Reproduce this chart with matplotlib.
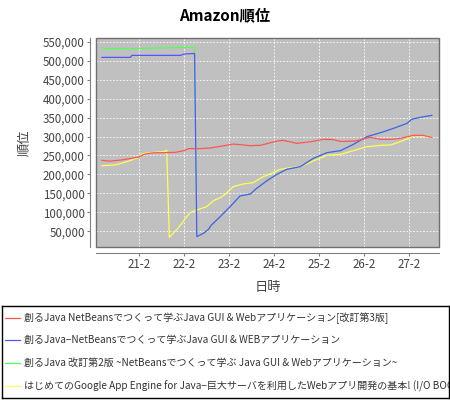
import matplotlib
matplotlib.use("Agg")
import matplotlib.pyplot as plt
from matplotlib.patches import Rectangle
from matplotlib.ticker import FuncFormatter, FixedLocator

plt.rcParams['font.family'] = ['Noto Sans CJK JP', 'DejaVu Sans']

title = "Amazon順位"
xlabel = "日時"
ylabel = "順位"
xtick_days = [21, 22, 23, 24, 25, 26, 27]
xtick_labels = ["21-2", "22-2", "23-2", "24-2", "25-2", "26-2", "27-2"]
ytick_values = [50000, 100000, 150000, 200000, 250000, 300000, 350000, 400000, 450000, 500000, 550000]

series_names = [
    "創るJava NetBeansでつくって学ぶJava GUI & Webアプリケーション[改訂第3版]",
    "創るJava−NetBeansでつくって学ぶJava GUI & WEBアプリケーション",
    "創るJava 改訂第2版 ~NetBeansでつくって学ぶ Java GUI & Webアプリケーション~",
    "はじめてのGoogle App Engine for Java−巨大サーバを利用したWebアプリ開発の基本! (I/O BOOKS)",
]
series_colors = ["#FF5555", "#5555FF", "#55FF55", "#FFFF55"]

red_x = [20.17, 20.35, 20.6, 20.85, 21.0, 21.1, 21.3, 21.8, 22.0, 22.1, 22.36, 22.6, 22.8, 23.09, 23.3, 23.47,
         23.7, 23.9, 24.06, 24.2, 24.5, 24.8, 25.09, 25.3, 25.47, 25.8, 26.13, 26.36, 26.6, 26.8, 27.09, 27.3, 27.5]
red_y = [237000, 235000, 238000, 243000, 246000, 253000, 257000, 258000, 263000, 268000, 268000, 270000, 274000,
         280000, 278000, 275800, 277000, 283000, 288000, 290000, 282000, 286000, 292500, 292000, 287000, 288000,
         297800, 292500, 292500, 295000, 303000, 303000, 297800]

blue_x = [20.17, 20.8, 20.84, 21.91, 22.0, 22.23, 22.28, 22.43, 22.54, 22.6, 22.8, 23.02, 23.24, 23.47, 23.61,
          23.84, 24.06, 24.28, 24.58, 24.87, 25.17, 25.47, 25.76, 26.06, 26.36, 26.65, 26.95, 27.05, 27.24, 27.5]
blue_y = [508700, 508700, 514000, 514000, 517500, 519000, 36000, 44800, 55300, 66000, 88700, 115000, 143200,
          148400, 163400, 183600, 200300, 213500, 220500, 242500, 257400, 262700, 279400, 299600, 310100, 321500,
          334700, 345300, 350500, 355800]

green_x = [20.17, 20.22, 20.84, 21.1, 21.91, 22.23, 22.23, 22.28, 22.43, 22.54, 22.6, 22.8, 23.02, 23.24, 23.47,
           23.61, 23.84, 24.06, 24.28, 24.58, 24.87, 25.17, 25.47, 25.76, 26.06, 26.36, 26.65, 26.95, 27.05, 27.24,
           27.5]
green_y = [535000, 531500, 531500, 532400, 535000, 535000, 519000, 36000, 44800, 55300, 66000, 88700, 115000,
           143200, 148400, 163400, 183600, 200300, 213500, 220500, 242500, 257400, 262700, 279400, 299600, 310100,
           321500, 334700, 345300, 350500, 355800]

yellow_x = [20.17, 20.47, 20.73, 21.02, 21.05, 21.24, 21.54, 21.61, 21.67, 21.84, 21.95, 22.0, 22.13, 22.28,
            22.5, 22.65, 22.8, 22.91, 23.09, 23.31, 23.53, 23.76, 23.98, 24.13, 24.36, 24.58, 24.87, 25.17, 25.47,
            25.76, 26.06, 26.36, 26.58, 26.8, 27.02, 27.1, 27.5]
yellow_y = [223000, 225000, 233700, 246000, 253900, 257400, 260000, 263500, 34200, 55300, 71100, 79900, 99200,
            106300, 115000, 130900, 138800, 147600, 167800, 174800, 178300, 194300, 204700, 213500, 217800, 220500,
            235500, 250400, 253000, 262700, 273200, 276700, 277600, 286400, 297000, 302200, 299600]

W, H = 450, 400
fig = plt.figure(figsize=(W / 100, H / 100), dpi=100)
fig.patch.set_facecolor("white")

L, R, T, B = 96, 439, 38, 247
ax = fig.add_axes([L / W, 1 - B / H, (R - L) / W, (B - T) / H])
ax.set_facecolor("#C0C0C0")

data = [(red_x, red_y), (blue_x, blue_y), (green_x, green_y), (yellow_x, yellow_y)]
zorders = [6, 5, 4, 3]
for (xs, ys), c, z in zip(data, series_colors, zorders):
    ax.plot(xs, ys, color=c, lw=0.9, zorder=z)

ax.set_xlim(20.04, 27.66)
ax.set_ylim(8600, 559800)
ax.xaxis.set_major_locator(FixedLocator(xtick_days))
ax.set_xticklabels(xtick_labels)
ax.yaxis.set_major_locator(FixedLocator(ytick_values))
ax.yaxis.set_major_formatter(FuncFormatter(lambda v, p: f"{int(v):,}"))

ax.grid(True, color="white", linestyle=(0, (2, 2)), lw=0.6)
ax.set_axisbelow(True)

for s in ax.spines.values():
    s.set_visible(False)
ax.add_patch(Rectangle((0, 0), 1, 1, transform=ax.transAxes, fill=False, edgecolor="#707070", lw=1.0,
                       zorder=10, clip_on=False))
ax.spines['left'].set_visible(True)
ax.spines['bottom'].set_visible(True)
ax.spines['left'].set_position(('outward', 4))
ax.spines['bottom'].set_position(('outward', 4))
ax.spines['left'].set_color("#808080")
ax.spines['bottom'].set_color("#808080")

ax.tick_params(axis='both', colors="#808080", labelcolor="#444444", labelsize=8.3, length=2, width=0.8)
ax.tick_params(axis='y', pad=2)
ax.tick_params(axis='x', pad=2)

ax.set_xlabel(xlabel, fontsize=9.5, color="#444444", labelpad=7)
ax.set_ylabel(ylabel, fontsize=9.5, color="#444444", labelpad=8)

fig.text(225 / W, 1 - 15 / H, title, ha="center", va="center", fontsize=11, fontweight="bold", color="black")

# legend box
lax = fig.add_axes([2 / W, 2 / H, 447 / W, 92 / H])
lax.set_xlim(0, 447)
lax.set_ylim(92, 0)
lax.set_xticks([])
lax.set_yticks([])
lax.set_facecolor("white")
for s in lax.spines.values():
    s.set_color("black")
    s.set_linewidth(1.0)
ys_leg = [12, 34, 57, 80]
for name, c, yy in zip(series_names, series_colors, ys_leg):
    lax.plot([3, 18], [yy, yy], color=c, lw=0.9)
    lax.text(22, yy, name, fontsize=7.2, color="#333333", va="center", ha="left", clip_on=True)

fig.savefig("out.png", dpi=100)
